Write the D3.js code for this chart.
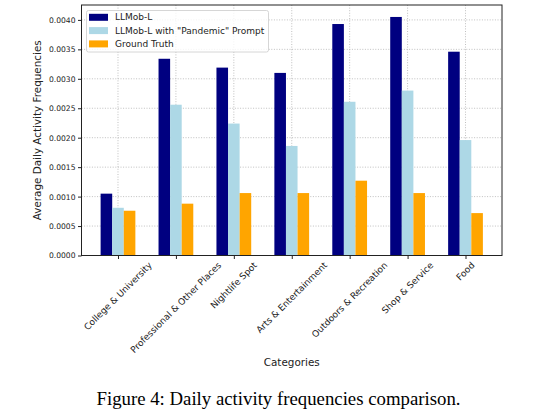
<!DOCTYPE html>
<html><head><meta charset="utf-8">
<script src="https://cdn.jsdelivr.net/npm/d3@7"></script>
<style>body{margin:0;background:#fff}svg{display:block}</style>
</head><body>
<svg id="c" width="538" height="417"></svg>
<script>
const categories = ["College & University","Professional & Other Places","Nightlife Spot","Arts & Entertainment","Outdoors & Recreation","Shop & Service","Food"];
const seriesNames = ["LLMob-L","LLMob-L with \"Pandemic\" Prompt","Ground Truth"];
const llmob = [0.00105,0.00334,0.00319,0.00310,0.00393,0.00405,0.00346];
const pandemic = [0.00081,0.00256,0.00224,0.00186,0.00261,0.00280,0.00196];
const groundTruth = [0.00076,0.00088,0.00106,0.00106,0.00127,0.00106,0.00072];
const yTicks = [0,0.0005,0.001,0.0015,0.002,0.0025,0.003,0.0035,0.004];
const colors = ["#000080","#ADD8E6","#FFA500"];
const series = [llmob,pandemic,groundTruth];

const svg = d3.select("#c");
const L=81.5, R=502, T=5, B=255.5;
const x = d3.scaleLinear().domain([-0.63,6.63]).range([L,R]);
const y = d3.scaleLinear().domain([0,0.004253]).range([B,T]);
const font = "DejaVu Sans, sans-serif";
const bw = 0.2;

// grid
const g = svg.append("g");
g.selectAll(".gy").data(yTicks).join("line")
  .attr("x1",L).attr("x2",R).attr("y1",d=>y(d)).attr("y2",d=>y(d))
  .attr("stroke","#b0b0b0").attr("stroke-width",0.8).attr("stroke-dasharray","1,1.6");
g.selectAll(".gx").data(categories).join("line")
  .attr("x1",(d,i)=>x(i)).attr("x2",(d,i)=>x(i)).attr("y1",T).attr("y2",B)
  .attr("stroke","#b0b0b0").attr("stroke-width",0.8).attr("stroke-dasharray","1,1.6");

// bars
series.forEach((s,k)=>{
  svg.append("g").selectAll("rect").data(s).join("rect")
    .attr("x",(d,i)=>x(i+(k-1)*bw-bw/2))
    .attr("width",x(bw)-x(0))
    .attr("y",d=>y(d)).attr("height",d=>B-y(d))
    .attr("fill",colors[k]);
});

// frame
svg.append("rect").attr("x",L).attr("y",T).attr("width",R-L).attr("height",B-T)
  .attr("fill","none").attr("stroke","#222").attr("stroke-width",1);

// y axis
const ya = svg.append("g").attr("transform",`translate(${L},0)`)
  .call(d3.axisLeft(y).tickValues(yTicks).tickFormat(d3.format(".4f")).tickSize(3.5).tickPadding(2.5));
ya.select(".domain").remove();
ya.selectAll("text").attr("font-family",font).attr("font-size",7.6).attr("fill","#222");
ya.selectAll("line").attr("stroke","#222");

// x axis ticks
const xa = svg.append("g").attr("transform",`translate(0,${B})`)
  .call(d3.axisBottom(x).tickValues(d3.range(categories.length)).tickSize(3.5).tickFormat(""));
xa.select(".domain").remove();
xa.selectAll("line").attr("stroke","#222");

// x labels rotated 45, bbox centered under tick
const xfs = 9.0;
categories.forEach((c,i)=>{
  const t = svg.append("text").text(c).attr("font-family",font).attr("font-size",xfs)
    .attr("fill","#222").attr("text-anchor","middle").attr("dominant-baseline","central");
  const len = t.node().getComputedTextLength();
  const h = xfs;
  const bh = (len+h)*Math.SQRT1_2;
  const cx = x(i), cy = B+5+bh/2;
  t.attr("x",cx).attr("y",cy).attr("transform",`rotate(-45,${cx},${cy})`);
});

// axis titles
svg.append("text").text("Categories").attr("x",(L+R)/2).attr("y",366)
  .attr("text-anchor","middle").attr("font-family",font).attr("font-size",10.4).attr("fill","#222");
svg.append("text").text("Average Daily Activity Frequencies")
  .attr("transform",`translate(40.5,${(T+B)/2}) rotate(-90)`)
  .attr("text-anchor","middle").attr("font-family",font).attr("font-size",10.4).attr("fill","#222");

// legend
const lg = svg.append("g");
lg.append("rect").attr("x",86.5).attr("y",10.5).attr("width",182).attr("height",41.5).attr("rx",2)
  .attr("fill","white").attr("fill-opacity",0.8).attr("stroke","#ccc").attr("stroke-width",0.8);
seriesNames.forEach((n,k)=>{
  const yy = 17.3 + k*13.3;
  lg.append("rect").attr("x",89).attr("y",yy-3.5).attr("width",19).attr("height",7).attr("fill",colors[k]);
  lg.append("text").text(n).attr("x",115).attr("y",yy).attr("dominant-baseline","central")
    .attr("font-family",font).attr("font-size",9.0).attr("fill","#222");
});

// caption
svg.append("text").text("Figure 4: Daily activity frequencies comparison.")
  .attr("x",278.5).attr("y",405).attr("text-anchor","middle")
  .attr("font-family","Liberation Serif, Times New Roman, serif").attr("font-size",18.8).attr("fill","#000");
</script>
</body></html>
